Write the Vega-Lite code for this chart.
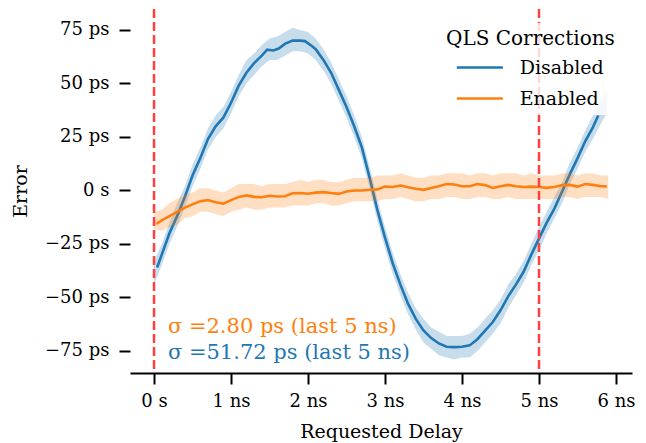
{
  "$schema": "https://vega.github.io/schema/vega-lite/v6.json",
  "width": 502,
  "height": 364,
  "autosize": {"type": "none"},
  "padding": {"left": 130, "top": 9, "right": 14, "bottom": 70},
  "background": "white",
  "config": {
    "view": {"stroke": null},
    "font": "DejaVu Serif",
    "axis": {
      "labelFont": "DejaVu Serif", "labelFontSize": 18, "labelColor": "#000",
      "titleFont": "DejaVu Serif", "titleFontSize": 19, "titleFontWeight": "normal", "titleColor": "#000",
      "tickColor": "#000", "tickWidth": 2, "tickSize": 11, "domainColor": "#000", "domainWidth": 2,
      "grid": false
    },
    "legend": {
      "labelFont": "DejaVu Serif", "titleFont": "DejaVu Serif"
    }
  },
  "datasets": {
    "smooth": [
      {"s": "Disabled", "x": 0.04, "y": -36},
      {"s": "Disabled", "x": 0.1, "y": -30},
      {"s": "Disabled", "x": 0.2, "y": -20},
      {"s": "Disabled", "x": 0.3, "y": -12},
      {"s": "Disabled", "x": 0.4, "y": -3},
      {"s": "Disabled", "x": 0.5, "y": 7},
      {"s": "Disabled", "x": 0.6, "y": 15},
      {"s": "Disabled", "x": 0.7, "y": 24},
      {"s": "Disabled", "x": 0.8, "y": 30},
      {"s": "Disabled", "x": 0.9, "y": 34},
      {"s": "Disabled", "x": 1.0, "y": 41},
      {"s": "Disabled", "x": 1.1, "y": 49},
      {"s": "Disabled", "x": 1.2, "y": 55},
      {"s": "Disabled", "x": 1.3, "y": 59.5},
      {"s": "Disabled", "x": 1.4, "y": 63},
      {"s": "Disabled", "x": 1.47, "y": 65.8},
      {"s": "Disabled", "x": 1.55, "y": 65.4},
      {"s": "Disabled", "x": 1.62, "y": 66.3},
      {"s": "Disabled", "x": 1.7, "y": 68.5},
      {"s": "Disabled", "x": 1.8, "y": 70},
      {"s": "Disabled", "x": 1.9, "y": 70},
      {"s": "Disabled", "x": 1.96, "y": 69.8},
      {"s": "Disabled", "x": 2.05, "y": 67.5},
      {"s": "Disabled", "x": 2.1, "y": 66},
      {"s": "Disabled", "x": 2.2, "y": 61},
      {"s": "Disabled", "x": 2.3, "y": 55},
      {"s": "Disabled", "x": 2.4, "y": 47},
      {"s": "Disabled", "x": 2.5, "y": 39},
      {"s": "Disabled", "x": 2.6, "y": 30},
      {"s": "Disabled", "x": 2.7, "y": 20},
      {"s": "Disabled", "x": 2.8, "y": 6},
      {"s": "Disabled", "x": 2.9, "y": -9},
      {"s": "Disabled", "x": 3.0, "y": -22},
      {"s": "Disabled", "x": 3.1, "y": -34},
      {"s": "Disabled", "x": 3.2, "y": -44},
      {"s": "Disabled", "x": 3.3, "y": -53},
      {"s": "Disabled", "x": 3.4, "y": -60},
      {"s": "Disabled", "x": 3.5, "y": -65.4},
      {"s": "Disabled", "x": 3.6, "y": -69},
      {"s": "Disabled", "x": 3.7, "y": -71.5},
      {"s": "Disabled", "x": 3.8, "y": -73},
      {"s": "Disabled", "x": 3.9, "y": -73.2},
      {"s": "Disabled", "x": 4.0, "y": -73},
      {"s": "Disabled", "x": 4.1, "y": -72.4},
      {"s": "Disabled", "x": 4.2, "y": -69.5},
      {"s": "Disabled", "x": 4.3, "y": -65.5},
      {"s": "Disabled", "x": 4.4, "y": -61.5},
      {"s": "Disabled", "x": 4.5, "y": -56},
      {"s": "Disabled", "x": 4.6, "y": -49.5},
      {"s": "Disabled", "x": 4.7, "y": -44},
      {"s": "Disabled", "x": 4.8, "y": -38},
      {"s": "Disabled", "x": 4.9, "y": -30},
      {"s": "Disabled", "x": 5.0, "y": -22.5},
      {"s": "Disabled", "x": 5.1, "y": -15},
      {"s": "Disabled", "x": 5.2, "y": -8.5},
      {"s": "Disabled", "x": 5.3, "y": -0.5},
      {"s": "Disabled", "x": 5.4, "y": 7.5},
      {"s": "Disabled", "x": 5.5, "y": 15},
      {"s": "Disabled", "x": 5.6, "y": 23},
      {"s": "Disabled", "x": 5.7, "y": 29.5},
      {"s": "Disabled", "x": 5.77, "y": 35},
      {"s": "Enabled", "x": 0.03, "y": -15.6},
      {"s": "Enabled", "x": 0.1, "y": -14},
      {"s": "Enabled", "x": 0.2, "y": -12},
      {"s": "Enabled", "x": 0.3, "y": -10},
      {"s": "Enabled", "x": 0.4, "y": -8},
      {"s": "Enabled", "x": 0.5, "y": -6.5},
      {"s": "Enabled", "x": 0.6, "y": -5},
      {"s": "Enabled", "x": 0.7, "y": -4.5},
      {"s": "Enabled", "x": 0.8, "y": -5.5},
      {"s": "Enabled", "x": 0.9, "y": -6.2},
      {"s": "Enabled", "x": 1.0, "y": -4.5},
      {"s": "Enabled", "x": 1.1, "y": -3},
      {"s": "Enabled", "x": 1.2, "y": -2.3},
      {"s": "Enabled", "x": 1.3, "y": -3},
      {"s": "Enabled", "x": 1.4, "y": -3.2},
      {"s": "Enabled", "x": 1.5, "y": -2.5},
      {"s": "Enabled", "x": 1.6, "y": -2.8},
      {"s": "Enabled", "x": 1.7, "y": -2.7},
      {"s": "Enabled", "x": 1.8, "y": -1.3},
      {"s": "Enabled", "x": 1.9, "y": -1.2},
      {"s": "Enabled", "x": 2.0, "y": -1.5},
      {"s": "Enabled", "x": 2.1, "y": -1},
      {"s": "Enabled", "x": 2.2, "y": -0.8},
      {"s": "Enabled", "x": 2.3, "y": -1.2},
      {"s": "Enabled", "x": 2.4, "y": -1.6},
      {"s": "Enabled", "x": 2.5, "y": -0.5},
      {"s": "Enabled", "x": 2.6, "y": 0},
      {"s": "Enabled", "x": 2.7, "y": 0},
      {"s": "Enabled", "x": 2.8, "y": 0.3},
      {"s": "Enabled", "x": 2.9, "y": 0.5},
      {"s": "Enabled", "x": 3.0, "y": 1.8},
      {"s": "Enabled", "x": 3.1, "y": 1.6},
      {"s": "Enabled", "x": 3.2, "y": 2.3},
      {"s": "Enabled", "x": 3.3, "y": 1.5},
      {"s": "Enabled", "x": 3.4, "y": 0.8},
      {"s": "Enabled", "x": 3.5, "y": 0.3},
      {"s": "Enabled", "x": 3.6, "y": 1.2},
      {"s": "Enabled", "x": 3.7, "y": 2},
      {"s": "Enabled", "x": 3.8, "y": 3},
      {"s": "Enabled", "x": 3.9, "y": 2.8},
      {"s": "Enabled", "x": 4.0, "y": 2},
      {"s": "Enabled", "x": 4.1, "y": 2},
      {"s": "Enabled", "x": 4.2, "y": 3},
      {"s": "Enabled", "x": 4.3, "y": 2.5},
      {"s": "Enabled", "x": 4.4, "y": 1.2},
      {"s": "Enabled", "x": 4.5, "y": 2},
      {"s": "Enabled", "x": 4.6, "y": 2.6},
      {"s": "Enabled", "x": 4.7, "y": 2},
      {"s": "Enabled", "x": 4.8, "y": 1.6},
      {"s": "Enabled", "x": 4.9, "y": 1.8},
      {"s": "Enabled", "x": 5.0, "y": 1.6},
      {"s": "Enabled", "x": 5.1, "y": 1.2},
      {"s": "Enabled", "x": 5.2, "y": 1.6},
      {"s": "Enabled", "x": 5.3, "y": 2.5},
      {"s": "Enabled", "x": 5.4, "y": 2.6},
      {"s": "Enabled", "x": 5.5, "y": 1.8},
      {"s": "Enabled", "x": 5.6, "y": 3},
      {"s": "Enabled", "x": 5.7, "y": 2.6},
      {"s": "Enabled", "x": 5.8, "y": 2},
      {"s": "Enabled", "x": 5.88, "y": 1.9}
    ],
    "raw": [
      {"s": "Disabled", "x": 0.0, "lo": -44, "hi": -33},
      {"s": "Disabled", "x": 0.1, "lo": -35, "hi": -25},
      {"s": "Disabled", "x": 0.2, "lo": -25, "hi": -15},
      {"s": "Disabled", "x": 0.3, "lo": -17, "hi": -6},
      {"s": "Disabled", "x": 0.4, "lo": -8, "hi": 2},
      {"s": "Disabled", "x": 0.5, "lo": 2, "hi": 12},
      {"s": "Disabled", "x": 0.6, "lo": 10, "hi": 20},
      {"s": "Disabled", "x": 0.7, "lo": 19, "hi": 29},
      {"s": "Disabled", "x": 0.8, "lo": 25, "hi": 35},
      {"s": "Disabled", "x": 0.9, "lo": 29, "hi": 39},
      {"s": "Disabled", "x": 1.0, "lo": 36, "hi": 46},
      {"s": "Disabled", "x": 1.1, "lo": 44, "hi": 54},
      {"s": "Disabled", "x": 1.2, "lo": 50, "hi": 61},
      {"s": "Disabled", "x": 1.3, "lo": 54, "hi": 64},
      {"s": "Disabled", "x": 1.4, "lo": 58, "hi": 68},
      {"s": "Disabled", "x": 1.5, "lo": 61, "hi": 71},
      {"s": "Disabled", "x": 1.6, "lo": 61, "hi": 72},
      {"s": "Disabled", "x": 1.7, "lo": 63, "hi": 74},
      {"s": "Disabled", "x": 1.8, "lo": 65, "hi": 76},
      {"s": "Disabled", "x": 1.9, "lo": 65, "hi": 75},
      {"s": "Disabled", "x": 2.0, "lo": 64, "hi": 74},
      {"s": "Disabled", "x": 2.1, "lo": 61, "hi": 71},
      {"s": "Disabled", "x": 2.2, "lo": 56, "hi": 66},
      {"s": "Disabled", "x": 2.3, "lo": 50, "hi": 60},
      {"s": "Disabled", "x": 2.4, "lo": 42, "hi": 52},
      {"s": "Disabled", "x": 2.5, "lo": 34, "hi": 44},
      {"s": "Disabled", "x": 2.6, "lo": 25, "hi": 35},
      {"s": "Disabled", "x": 2.7, "lo": 15, "hi": 25},
      {"s": "Disabled", "x": 2.8, "lo": 1, "hi": 11},
      {"s": "Disabled", "x": 2.9, "lo": -14, "hi": -4},
      {"s": "Disabled", "x": 3.0, "lo": -27, "hi": -17},
      {"s": "Disabled", "x": 3.1, "lo": -39, "hi": -29},
      {"s": "Disabled", "x": 3.2, "lo": -49, "hi": -39},
      {"s": "Disabled", "x": 3.3, "lo": -58, "hi": -48},
      {"s": "Disabled", "x": 3.4, "lo": -65, "hi": -55},
      {"s": "Disabled", "x": 3.5, "lo": -71, "hi": -60},
      {"s": "Disabled", "x": 3.6, "lo": -74, "hi": -64},
      {"s": "Disabled", "x": 3.7, "lo": -77, "hi": -66},
      {"s": "Disabled", "x": 3.8, "lo": -78, "hi": -68},
      {"s": "Disabled", "x": 3.9, "lo": -79, "hi": -68},
      {"s": "Disabled", "x": 4.0, "lo": -78, "hi": -68},
      {"s": "Disabled", "x": 4.1, "lo": -78, "hi": -67},
      {"s": "Disabled", "x": 4.2, "lo": -75, "hi": -64},
      {"s": "Disabled", "x": 4.3, "lo": -71, "hi": -60},
      {"s": "Disabled", "x": 4.4, "lo": -67, "hi": -56},
      {"s": "Disabled", "x": 4.5, "lo": -62, "hi": -51},
      {"s": "Disabled", "x": 4.6, "lo": -55, "hi": -44},
      {"s": "Disabled", "x": 4.7, "lo": -49, "hi": -39},
      {"s": "Disabled", "x": 4.8, "lo": -43, "hi": -33},
      {"s": "Disabled", "x": 4.9, "lo": -35, "hi": -25},
      {"s": "Disabled", "x": 5.0, "lo": -28, "hi": -17},
      {"s": "Disabled", "x": 5.1, "lo": -20, "hi": -10},
      {"s": "Disabled", "x": 5.2, "lo": -13, "hi": -3},
      {"s": "Disabled", "x": 5.3, "lo": -6, "hi": 4},
      {"s": "Disabled", "x": 5.4, "lo": 3, "hi": 13},
      {"s": "Disabled", "x": 5.5, "lo": 10, "hi": 20},
      {"s": "Disabled", "x": 5.6, "lo": 18, "hi": 28},
      {"s": "Disabled", "x": 5.7, "lo": 24, "hi": 35},
      {"s": "Disabled", "x": 5.8, "lo": 31, "hi": 42},
      {"s": "Disabled", "x": 5.88, "lo": 36, "hi": 46},
      {"s": "Enabled", "x": 0.0, "lo": -18, "hi": -10},
      {"s": "Enabled", "x": 0.1, "lo": -19, "hi": -9},
      {"s": "Enabled", "x": 0.2, "lo": -17, "hi": -6},
      {"s": "Enabled", "x": 0.3, "lo": -16, "hi": -4},
      {"s": "Enabled", "x": 0.4, "lo": -13, "hi": -2},
      {"s": "Enabled", "x": 0.5, "lo": -12, "hi": -1},
      {"s": "Enabled", "x": 0.6, "lo": -10, "hi": 1},
      {"s": "Enabled", "x": 0.7, "lo": -10, "hi": 1},
      {"s": "Enabled", "x": 0.8, "lo": -11, "hi": 0},
      {"s": "Enabled", "x": 0.9, "lo": -12, "hi": -1},
      {"s": "Enabled", "x": 1.0, "lo": -10, "hi": 1},
      {"s": "Enabled", "x": 1.1, "lo": -9, "hi": 3},
      {"s": "Enabled", "x": 1.2, "lo": -8, "hi": 3},
      {"s": "Enabled", "x": 1.3, "lo": -9, "hi": 3},
      {"s": "Enabled", "x": 1.4, "lo": -9, "hi": 2},
      {"s": "Enabled", "x": 1.5, "lo": -8, "hi": 3},
      {"s": "Enabled", "x": 1.6, "lo": -8, "hi": 3},
      {"s": "Enabled", "x": 1.7, "lo": -8, "hi": 3},
      {"s": "Enabled", "x": 1.8, "lo": -7, "hi": 4},
      {"s": "Enabled", "x": 1.9, "lo": -7, "hi": 5},
      {"s": "Enabled", "x": 2.0, "lo": -7, "hi": 4},
      {"s": "Enabled", "x": 2.1, "lo": -6, "hi": 5},
      {"s": "Enabled", "x": 2.2, "lo": -6, "hi": 5},
      {"s": "Enabled", "x": 2.3, "lo": -7, "hi": 4},
      {"s": "Enabled", "x": 2.4, "lo": -7, "hi": 4},
      {"s": "Enabled", "x": 2.5, "lo": -6, "hi": 5},
      {"s": "Enabled", "x": 2.6, "lo": -5, "hi": 6},
      {"s": "Enabled", "x": 2.7, "lo": -5, "hi": 6},
      {"s": "Enabled", "x": 2.8, "lo": -5, "hi": 6},
      {"s": "Enabled", "x": 2.9, "lo": -5, "hi": 7},
      {"s": "Enabled", "x": 3.0, "lo": -4, "hi": 7},
      {"s": "Enabled", "x": 3.1, "lo": -4, "hi": 7},
      {"s": "Enabled", "x": 3.2, "lo": -3, "hi": 8},
      {"s": "Enabled", "x": 3.3, "lo": -4, "hi": 7},
      {"s": "Enabled", "x": 3.4, "lo": -5, "hi": 6},
      {"s": "Enabled", "x": 3.5, "lo": -5, "hi": 6},
      {"s": "Enabled", "x": 3.6, "lo": -4, "hi": 7},
      {"s": "Enabled", "x": 3.7, "lo": -4, "hi": 7},
      {"s": "Enabled", "x": 3.8, "lo": -3, "hi": 8},
      {"s": "Enabled", "x": 3.9, "lo": -3, "hi": 8},
      {"s": "Enabled", "x": 4.0, "lo": -4, "hi": 8},
      {"s": "Enabled", "x": 4.1, "lo": -4, "hi": 7},
      {"s": "Enabled", "x": 4.2, "lo": -3, "hi": 8},
      {"s": "Enabled", "x": 4.3, "lo": -3, "hi": 8},
      {"s": "Enabled", "x": 4.4, "lo": -4, "hi": 7},
      {"s": "Enabled", "x": 4.5, "lo": -4, "hi": 8},
      {"s": "Enabled", "x": 4.6, "lo": -3, "hi": 8},
      {"s": "Enabled", "x": 4.7, "lo": -4, "hi": 8},
      {"s": "Enabled", "x": 4.8, "lo": -4, "hi": 7},
      {"s": "Enabled", "x": 4.9, "lo": -4, "hi": 8},
      {"s": "Enabled", "x": 5.0, "lo": -4, "hi": 7},
      {"s": "Enabled", "x": 5.1, "lo": -4, "hi": 7},
      {"s": "Enabled", "x": 5.2, "lo": -4, "hi": 7},
      {"s": "Enabled", "x": 5.3, "lo": -3, "hi": 8},
      {"s": "Enabled", "x": 5.4, "lo": -3, "hi": 8},
      {"s": "Enabled", "x": 5.5, "lo": -4, "hi": 7},
      {"s": "Enabled", "x": 5.6, "lo": -3, "hi": 8},
      {"s": "Enabled", "x": 5.7, "lo": -3, "hi": 8},
      {"s": "Enabled", "x": 5.8, "lo": -3, "hi": 7},
      {"s": "Enabled", "x": 5.9, "lo": -4, "hi": 7}
    ],
    "vlines": [{"x": 0}, {"x": 5}],
    "notes": [
      {"s": "Enabled", "x": 0.18, "y": -63.6, "label": "σ =2.80 ps (last 5 ns)"},
      {"s": "Disabled", "x": 0.18, "y": -75.9, "label": "σ =51.72 ps (last 5 ns)"}
    ]
  },
  "encoding": {
    "x": {
      "type": "quantitative",
      "scale": {"domain": [-0.312, 6.208], "nice": false, "zero": false},
      "axis": {
        "title": "Requested Delay",
        "values": [0, 1, 2, 3, 4, 5, 6],
        "labelExpr": "datum.value == 0 ? '0 s' : datum.value + ' ns'",
        "labelPadding": 8,
        "titlePadding": 12
      }
    },
    "y": {
      "type": "quantitative",
      "scale": {"domain": [-85.3, 84.8], "nice": false, "zero": false},
      "axis": {
        "title": "Error",
        "domain": false,
        "values": [-75, -50, -25, 0, 25, 50, 75],
        "labelExpr": "datum.value == 0 ? '0 s' : (datum.value < 0 ? '\u2212' + abs(datum.value) : datum.value) + ' ps'",
        "labelPadding": 10,
        "titlePadding": 14
      }
    }
  },
  "layer": [
    {
      "data": {"name": "raw"},
      "transform": [{"filter": "datum.s == 'Disabled'"}],
      "mark": {"type": "area", "color": "#1f77b4", "opacity": 0.25},
      "encoding": {"x": {"field": "x"}, "y": {"field": "lo"}, "y2": {"field": "hi"}}
    },
    {
      "data": {"name": "smooth"},
      "transform": [{"filter": "datum.s == 'Disabled'"}],
      "mark": {"type": "line", "strokeWidth": 2.6},
      "encoding": {
        "x": {"field": "x"},
        "y": {"field": "y"},
        "color": {"field": "s", "type": "nominal", "scale": {"domain": ["Disabled", "Enabled"], "range": ["#1f77b4", "#ff7f0e"]}}
      }
    },
    {
      "data": {"name": "raw"},
      "transform": [{"filter": "datum.s == 'Enabled'"}],
      "mark": {"type": "area", "color": "#ff7f0e", "opacity": 0.25},
      "encoding": {"x": {"field": "x"}, "y": {"field": "lo"}, "y2": {"field": "hi"}}
    },
    {
      "data": {"name": "smooth"},
      "transform": [{"filter": "datum.s == 'Enabled'"}],
      "mark": {"type": "line", "strokeWidth": 2.6},
      "encoding": {
        "x": {"field": "x"},
        "y": {"field": "y"},
        "color": {
          "field": "s", "type": "nominal",
          "scale": {"domain": ["Disabled", "Enabled"], "range": ["#1f77b4", "#ff7f0e"]},
          "legend": {
            "title": "QLS Corrections",
            "orient": "none",
            "legendX": 310,
            "legendY": 14,
            "padding": 6,
            "fillColor": "rgba(255,255,255,0.8)",
            "titleFontSize": 20,
            "titleFontWeight": "normal",
            "titleColor": "#000",
            "titlePadding": 9,
            "labelFontSize": 19,
            "labelColor": "#000",
            "symbolType": "M0.173,0H6.173",
            "symbolSize": 235,
            "symbolStrokeWidth": 2.6,
            "labelOffset": 54.7,
            "rowPadding": 11
          }
        }
      }
    },
    {
      "data": {"name": "vlines"},
      "mark": {"type": "rule", "color": "#ff4040", "strokeWidth": 2.5, "strokeDash": [9, 4]},
      "encoding": {"x": {"field": "x"}}
    },
    {
      "data": {"name": "notes"},
      "transform": [{"filter": "datum.s == 'Enabled'"}],
      "mark": {"type": "text", "align": "left", "baseline": "middle", "font": "DejaVu Serif", "fontSize": 21, "color": "#ff7f0e"},
      "encoding": {"x": {"field": "x"}, "y": {"field": "y"}, "text": {"field": "label"}}
    },
    {
      "data": {"name": "notes"},
      "transform": [{"filter": "datum.s == 'Disabled'"}],
      "mark": {"type": "text", "align": "left", "baseline": "middle", "font": "DejaVu Serif", "fontSize": 21, "color": "#1f77b4"},
      "encoding": {"x": {"field": "x"}, "y": {"field": "y"}, "text": {"field": "label"}}
    }
  ]
}
